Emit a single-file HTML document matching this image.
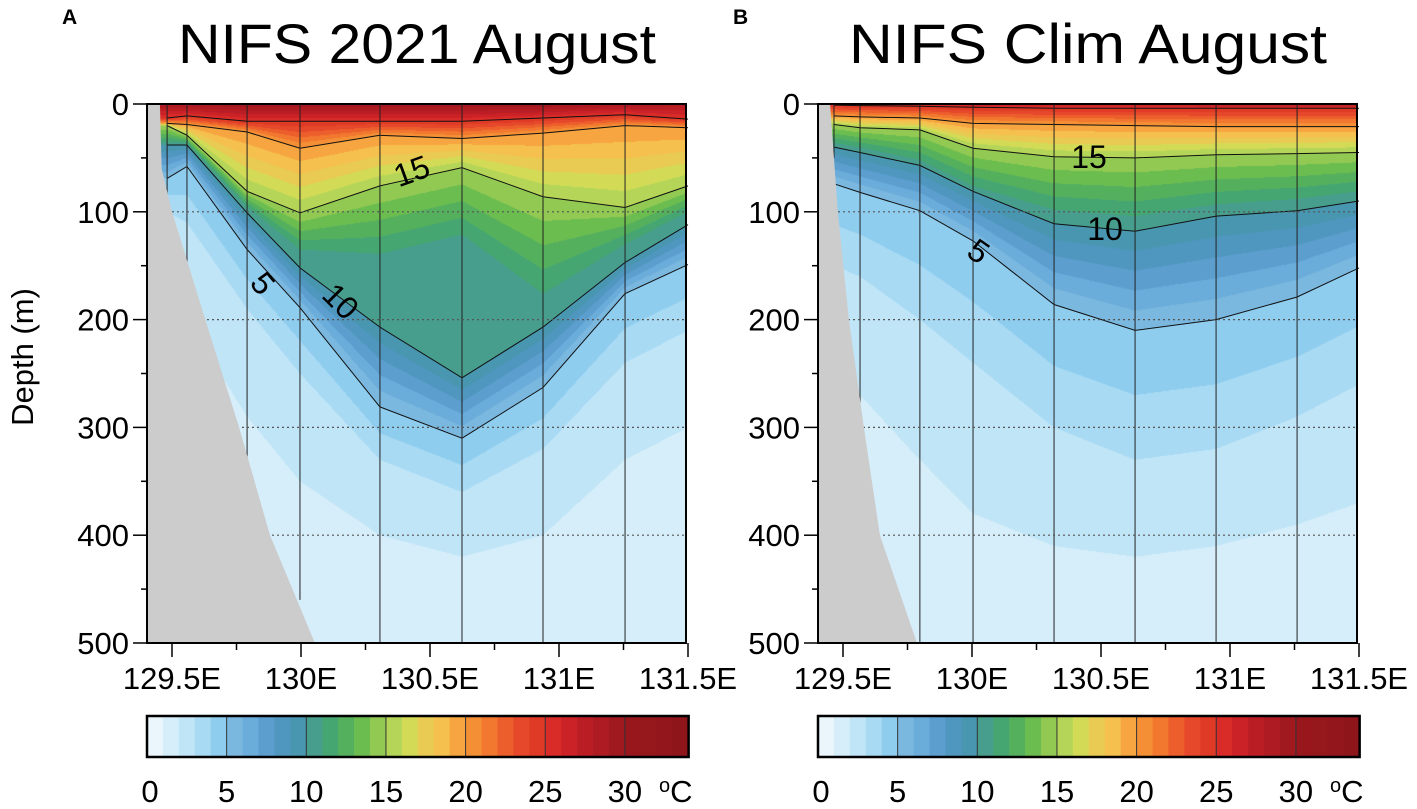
<!DOCTYPE html>
<html><head><meta charset="utf-8">
<style>
html,body{margin:0;padding:0;background:#fff;}
body{width:1417px;height:809px;position:relative;overflow:hidden;font-family:"Liberation Sans",sans-serif;}
canvas{position:absolute;}
svg{position:absolute;left:0;top:0;}
</style></head>
<body>
<canvas id="cA" width="539" height="539" style="left:147px;top:104px"></canvas>
<canvas id="cB" width="539" height="539" style="left:818px;top:104px"></canvas>
<svg id="svg" width="1417" height="809"></svg>
<script>
// ---------- data ----------
const levelTemps = [25, 20, 15, 11, 10, 5, 3, 2, 1];
const contourLevels = [25, 20, 15, 10, 5];
const stationLonA = [129.481, 129.558, 129.791, 129.996, 130.306, 130.624, 130.938, 131.256, 131.5];
const surfaceTA = [29, 29.5, 30, 30, 30, 30, 30, 29, 28.5];
const iso25A = [13, 11, 16, 16, 16, 16, 13, 10, 14];
const iso20A = [18, 19, 26, 41, 29, 32, 27, 20, 22];
const iso15A = [20, 29, 81, 101, 76, 59, 86, 96, 76];
const iso11A = [35, 36, 95, 135, 139, 121, 176, 130, 100];
const iso10A = [38, 38, 101, 152, 207, 254, 207, 147, 112];
const iso5A  = [69, 58, 135, 189, 281, 310, 263, 176, 149];
const iso3A  = [100, 110, 190, 250, 330, 360, 320, 240, 210];
const iso2A  = [180, 200, 290, 350, 400, 420, 400, 330, 300];
const iso1A  = [350, 380, 420, 560, 620, 640, 620, 560, 540];
const stationBottomA = [100, 150, 350, 460, 500, 500, 500, 500, 500];
const landLonA = [129.453, 129.46, 129.5, 129.629, 129.76, 129.88, 130.054];
const landDepthA = [0, 60, 100, 200, 300, 400, 500];

const stationLonB = [129.465, 129.566, 129.798, 130.004, 130.318, 130.632, 130.946, 131.26, 131.5];
const surfaceTB = [26, 26, 26.5, 27, 27, 27, 27.5, 28, 28];
const iso25B = [1, 1.5, 2, 3, 4, 4, 4, 4, 4];
const iso20B = [11, 12, 13, 18, 19, 20, 21, 21, 21];
const iso15B = [19, 22, 24, 41, 49, 50, 47, 46, 45];
const iso11B = [36, 40, 52, 76, 98, 104, 93, 88, 81];
const iso10B = [40, 45, 57, 81, 111, 118, 104, 99, 90];
const iso5B  = [74, 82, 99, 127, 186, 210, 200, 179, 152];
const iso3B  = [150, 160, 200, 240, 300, 330, 320, 290, 260];
const iso2B  = [250, 270, 330, 380, 410, 420, 410, 390, 370];
const iso1B  = [380, 400, 450, 500, 560, 600, 580, 540, 520];
const stationBottomB = [50, 300, 500, 500, 500, 500, 500, 500, 500];
const landLonB = [129.45, 129.48, 129.523, 129.581, 129.643, 129.787];
const landDepthB = [0, 100, 200, 300, 400, 500];

const xTicks = [129.5, 130, 130.5, 131, 131.5];
const xTickLabels = ["129.5E", "130E", "130.5E", "131E", "131.5E"];
const yTicks = [0, 100, 200, 300, 400, 500];
const cbTicks = [0, 5, 10, 15, 20, 25, 30];
const cbColors = ["#eaf6fc","#d6eefa","#c0e5f7","#a8daf4","#8fcdef","#7ab8e0","#6aacda","#5c9fcf","#5097c0","#4896b0",
"#479e8c","#45a672","#55b05e","#6cbd50","#92c952","#b5d558","#d3db56","#e9ca52","#f6c04e","#f6a540",
"#f48f35","#f2772f","#ec5e2c","#e5482a","#df3a26","#d92b28","#cb2228","#ba1e24","#ae1b22","#a0191f",
"#98171d","#96171c","#92161b","#8e151a"];

// ---------- axes ----------
const PT = 104, PH = 539, PW = 539;
function xScale(lon, left){ return left + 25 + (lon - 129.5) * 258; }
function yScale(d){ return PT + d * PH / 500; }
function cbX(t, left){ return left + t * 15.93; }

const NS = "http://www.w3.org/2000/svg";
const svg = document.getElementById('svg');
function mk(tag, attrs, parent){ const e = document.createElementNS(NS, tag); for (const k in attrs) e.setAttribute(k, attrs[k]); (parent||svg).appendChild(e); return e; }
function hexRGB(h){ return [parseInt(h.substr(1,2),16), parseInt(h.substr(3,2),16), parseInt(h.substr(5,2),16)]; }
const rgb = cbColors.map(hexRGB);
function interp(xs, ys, x){
  if (x <= xs[0]) return ys[0];
  for (let i=1;i<xs.length;i++) if (x <= xs[i]) { const f=(x-xs[i-1])/(xs[i]-xs[i-1]); return ys[i-1]+f*(ys[i]-ys[i-1]); }
  return ys[ys.length-1];
}

function drawPanel(p){
  const cv = document.getElementById(p.canvas), ctx = cv.getContext('2d');
  const img = ctx.createImageData(PW, PH);
  const isos = p.isos;
  for (let px=0; px<PW; px++){
    const lon = 129.5 + (px + 0.5 - 25) / 258;
    const T0 = interp(p.lon, p.surf, lon);
    const ds = [0], ts = [T0];
    for (let k=0;k<isos.length;k++){ ds.push(Math.max(interp(p.lon, isos[k], lon), ds[ds.length-1]+0.01)); ts.push(levelTemps[k]); }
    for (let py=0; py<PH; py++){
      const d = (py + 0.5) * 500 / PH;
      const T = interp(ds, ts, d);
      let idx = Math.floor(T); if (idx<0) idx=0; if (idx>=rgb.length) idx=rgb.length-1;
      const c = rgb[idx], o = (py*PW+px)*4;
      img.data[o]=c[0]; img.data[o+1]=c[1]; img.data[o+2]=c[2]; img.data[o+3]=255;
    }
  }
  ctx.putImageData(img, 0, 0);
  const L = p.left, g = mk('g', {});
  
  
  // contour lines
  for (const lv of contourLevels){
    const arr = isos[levelTemps.indexOf(lv)];
    const pts = p.lon.map((lo,i)=> xScale(lo,L).toFixed(1)+','+yScale(arr[i]).toFixed(1)).join(' ');
    const pl = mk('polyline', {points: pts, fill:'none', stroke:'#111', 'stroke-width':1}, g);
    
    
  }
  // station lines
  for (let i=0;i<p.lon.length-1;i++){
    const sl = mk('line', {x1:xScale(p.lon[i],L), x2:xScale(p.lon[i],L), y1:PT, y2:yScale(p.bottom[i]), stroke:'#222', 'stroke-width':1}, g);
    
    
  }
  // grid
  for (const t of yTicks.slice(1,5)){
    const gl = mk('line', {x1:L, x2:L+PW, y1:yScale(t), y2:yScale(t), stroke:'#555', 'stroke-width':1.2, 'stroke-dasharray':'2,3'}, g);
    
    
  }
  // land
  let lp = L+','+PT+' ';
  lp += p.landLon.map((lo,i)=> xScale(lo,L).toFixed(1)+','+yScale(p.landDepth[i]).toFixed(1)).join(' ');
  lp += ' '+L+','+(PT+PH);
  const land = mk('polygon', {points: lp, fill:'#cccccc'}, g);
  
  
  // contour labels
  for (const lb of p.labels){
    const t = mk('text', {x:lb.x, y:lb.y+10, 'font-size':32, 'text-anchor':'middle', transform:'rotate('+lb.r+' '+lb.x+' '+lb.y+')'}, g);
    t.textContent = lb.t;
    
    
  }
  // frame
  const fr = mk('rect', {x:L, y:PT, width:PW, height:PH, fill:'none', stroke:'#000', 'stroke-width':2}, g);
  
  
  // y ticks
  for (let d=0; d<=500; d+=50){
    const major = d % 100 === 0;
    mk('line', {x1:L-(major?14:6), x2:L, y1:yScale(d), y2:yScale(d), stroke:'#000', 'stroke-width':1.5}, g);
  }
  for (const t of yTicks){
    const tx = mk('text', {x:L-18, y:yScale(t)+11, 'font-size':31, 'text-anchor':'end'}, g);
    tx.textContent = t;
    
    
  }
  // x ticks
  for (let lo=129.5; lo<=131.51; lo+=0.25){
    const major = Math.abs(lo*2 - Math.round(lo*2)) < 1e-6;
    mk('line', {x1:xScale(lo,L), x2:xScale(lo,L), y1:PT+PH, y2:PT+PH+(major?14:7), stroke:'#000', 'stroke-width':1.5}, g);
  }
  xTicks.forEach((lo,i)=>{
    const tx = mk('text', {x:xScale(lo,L), y:689, 'font-size':31, 'text-anchor':'middle'}, g);
    tx.textContent = xTickLabels[i];
    
    
  });
  // title & panel letter
  const ti = mk('text', {x:L+270, y:63, 'font-size':56, 'text-anchor':'middle', textLength:478, lengthAdjust:'spacingAndGlyphs'}, g);
  ti.textContent = p.title;
  
  
  const pl2 = mk('text', {x:L-85, y:24, 'font-size':21, 'font-weight':'bold'}, g);
  pl2.textContent = p.letter;
  
  
  // colorbar
  const cb = mk('g', {}, g);
  
  
  for (let i=0;i<cbColors.length;i++){
    mk('rect', {x:cbX(i,L), y:716, width:16.3, height:41, fill:cbColors[i]}, cb);
  }
  for (const t of cbTicks.slice(1)){
    mk('line', {x1:cbX(t,L), x2:cbX(t,L), y1:716, y2:757, stroke:'#333', 'stroke-width':1}, cb);
  }
  mk('rect', {x:L, y:716, width:cbX(cbColors.length,L)-L, height:41, fill:'none', stroke:'#000', 'stroke-width':2.5}, cb);
  for (const t of cbTicks){
    const tx = mk('text', {x:cbX(t,L)+(t===0?3:0), y:802, 'font-size':31, 'text-anchor':'middle'}, cb);
    tx.textContent = t;
    
    
  }
  const un = mk('text', {x:L+512, y:802, 'font-size':31}, cb);
  un.innerHTML = '<tspan font-size="20" dy="-10">o</tspan><tspan dy="10">C</tspan>';
  
  
}

drawPanel({id:'panel-a', canvas:'cA', left:147, lon:stationLonA, surf:surfaceTA,
  isos:[iso25A, iso20A, iso15A, iso11A, iso10A, iso5A, iso3A, iso2A, iso1A], bottom:stationBottomA,
  landLon:landLonA, landDepth:landDepthA, title:'NIFS 2021 August', letter:'A',
  labels:[{t:'15',x:412,y:172,r:-20},{t:'5',x:262,y:284,r:50},{t:'10',x:340,y:302,r:45}]});
drawPanel({id:'panel-b', canvas:'cB', left:818, lon:stationLonB, surf:surfaceTB,
  isos:[iso25B, iso20B, iso15B, iso11B, iso10B, iso5B, iso3B, iso2B, iso1B], bottom:stationBottomB,
  landLon:landLonB, landDepth:landDepthB, title:'NIFS Clim August', letter:'B',
  labels:[{t:'15',x:1089,y:158,r:0},{t:'10',x:1105,y:230,r:0},{t:'5',x:978,y:252,r:35}]});

const yl = mk('text', {x:33, y:357, 'font-size':31, 'text-anchor':'middle', transform:'rotate(-90 33 357)'});
yl.textContent = 'Depth (m)';


</script>
</body></html>
